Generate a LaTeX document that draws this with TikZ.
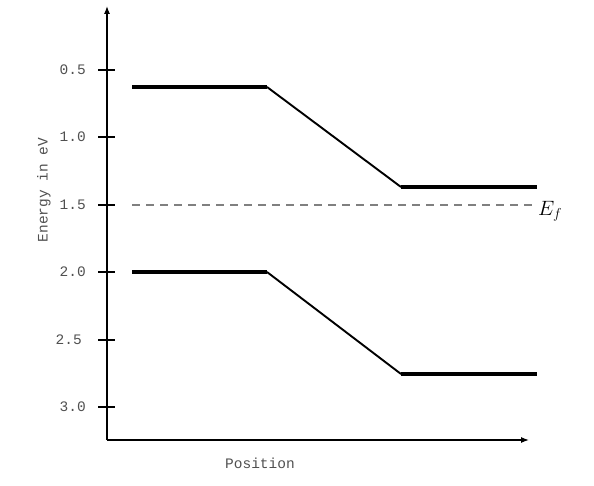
\documentclass[tikz,border=0pt]{standalone}
\usepackage{fontspec}
\setmonofont{Liberation Mono}
\usetikzlibrary{arrows.meta}
\definecolor{txtgray}{HTML}{505050}
\tikzset{
  axis/.style={line width=1.2pt,-{Latex[length=8pt,width=6pt]}},
  tickmark/.style={line width=1.1pt},
  lbl/.style={font=\fontsize{14.5}{16}\selectfont\ttfamily,text=txtgray},
  ticklabel/.style={lbl,anchor=east,inner sep=0pt},
  level/.style={line width=3.1pt},
  slope/.style={line width=1.9pt},
  fermi/.style={line width=1.2pt,gray,dash pattern=on 8pt off 6pt}
}
\begin{document}
\begin{tikzpicture}[x=1pt,y=-1pt]
\useasboundingbox (0,0) rectangle (594,486);
\coordinate (O) at (107,440);
\coordinate (Ytop) at (107,6);
\coordinate (Xend) at (529,440);
\draw[axis] (O) -- (Ytop);
\draw[axis] (O) -- (Xend);
% ticks
\foreach \v/\y/\lx in {0.5/70/86,1.0/137/86,1.5/205/86,2.0/272/86,2.5/340/82,3.0/407/86}{
  \draw[tickmark] (98,\y) -- (115,\y);
  \node[ticklabel] (t\v) at (\lx,\y) {\v};
}
% axis labels
\node[lbl,rotate=90] (ylab) at (44,190) {Energy in eV};
\node[lbl] (xlab) at (260,463) {Position};
% bands
\coordinate (c1) at (132,87);
\coordinate (c2) at (267,87);
\coordinate (c3) at (401,187);
\coordinate (c4) at (537,187);
\draw[level] (c1) -- (c2);
\draw[slope] (c2) -- (c3);
\draw[level] (c3) -- (c4);
\coordinate (v1) at (132,272);
\coordinate (v2) at (267,272);
\coordinate (v3) at (401,374);
\coordinate (v4) at (537,374);
\draw[level] (v1) -- (v2);
\draw[slope] (v2) -- (v3);
\draw[level] (v3) -- (v4);
% fermi level
\coordinate (f1) at (132,205);
\coordinate (f2) at (537,205);
\draw[fermi] (f1) -- (f2);
\node[font=\fontsize{21}{24}\selectfont,anchor=west,inner sep=0pt] (Ef) at (538,211) {$E_f$};
\end{tikzpicture}
\end{document}
